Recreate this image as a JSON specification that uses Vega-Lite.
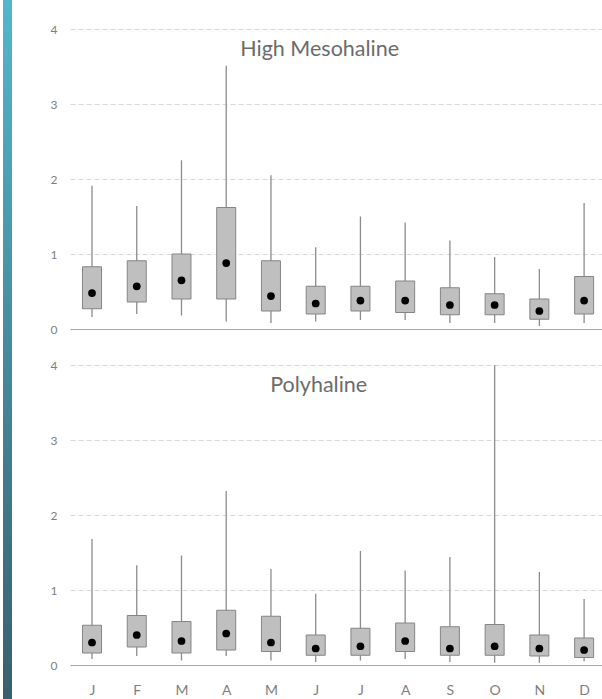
{
  "$schema": "https://vega.github.io/schema/vega-lite/v6.json",
  "padding": {"left": 3, "top": 0, "right": 0, "bottom": 0},
  "background": "white",
  "config": {
    "view": {"stroke": null},
    "font": "Lato",
    "axis": {"labelFont": "Lato", "labelColor": "#7f7f7f", "title": null}
  },
  "datasets": {
    "hm": [
      {"m": 1, "low": 0.16, "q1": 0.27, "mid": 0.48, "q3": 0.83, "high": 1.91},
      {"m": 2, "low": 0.20, "q1": 0.36, "mid": 0.57, "q3": 0.91, "high": 1.64},
      {"m": 3, "low": 0.18, "q1": 0.40, "mid": 0.65, "q3": 1.00, "high": 2.25},
      {"m": 4, "low": 0.10, "q1": 0.40, "mid": 0.88, "q3": 1.62, "high": 3.51},
      {"m": 5, "low": 0.08, "q1": 0.24, "mid": 0.44, "q3": 0.91, "high": 2.05},
      {"m": 6, "low": 0.10, "q1": 0.20, "mid": 0.34, "q3": 0.57, "high": 1.09},
      {"m": 7, "low": 0.12, "q1": 0.24, "mid": 0.38, "q3": 0.57, "high": 1.50},
      {"m": 8, "low": 0.12, "q1": 0.22, "mid": 0.38, "q3": 0.64, "high": 1.42},
      {"m": 9, "low": 0.08, "q1": 0.19, "mid": 0.32, "q3": 0.55, "high": 1.18},
      {"m": 10, "low": 0.08, "q1": 0.19, "mid": 0.32, "q3": 0.47, "high": 0.96},
      {"m": 11, "low": 0.04, "q1": 0.13, "mid": 0.24, "q3": 0.40, "high": 0.80},
      {"m": 12, "low": 0.08, "q1": 0.20, "mid": 0.38, "q3": 0.70, "high": 1.68}
    ],
    "ph": [
      {"m": 1, "low": 0.08, "q1": 0.16, "mid": 0.30, "q3": 0.53, "high": 1.68},
      {"m": 2, "low": 0.12, "q1": 0.24, "mid": 0.40, "q3": 0.66, "high": 1.33},
      {"m": 3, "low": 0.06, "q1": 0.16, "mid": 0.32, "q3": 0.58, "high": 1.46},
      {"m": 4, "low": 0.12, "q1": 0.20, "mid": 0.42, "q3": 0.73, "high": 2.32},
      {"m": 5, "low": 0.06, "q1": 0.18, "mid": 0.30, "q3": 0.65, "high": 1.28},
      {"m": 6, "low": 0.04, "q1": 0.13, "mid": 0.22, "q3": 0.40, "high": 0.95},
      {"m": 7, "low": 0.06, "q1": 0.13, "mid": 0.25, "q3": 0.49, "high": 1.52},
      {"m": 8, "low": 0.08, "q1": 0.18, "mid": 0.32, "q3": 0.56, "high": 1.26},
      {"m": 9, "low": 0.04, "q1": 0.13, "mid": 0.22, "q3": 0.51, "high": 1.44},
      {"m": 10, "low": 0.03, "q1": 0.13, "mid": 0.25, "q3": 0.54, "high": 4.0},
      {"m": 11, "low": 0.03, "q1": 0.12, "mid": 0.22, "q3": 0.40, "high": 1.24},
      {"m": 12, "low": 0.05, "q1": 0.10, "mid": 0.20, "q3": 0.36, "high": 0.88}
    ]
  },
  "spacing": 38,
  "hconcat": [
    {
      "width": 9,
      "height": 699,
      "view": {
        "stroke": null,
        "fill": {
          "gradient": "linear", "x1": 0, "y1": 0, "x2": 0, "y2": 1,
          "stops": [
            {"offset": 0, "color": "#52b6cc"},
            {"offset": 1, "color": "#39606e"}
          ]
        }
      },
      "data": {"values": [{}]},
      "mark": {"type": "text", "text": ""},
      "encoding": {}
    },
    {
      "spacing": 24,
      "vconcat": [
        {
          "width": 532,
          "height": 329,
          "data": {"name": "hm"},
          "encoding": {
            "x": {"field": "m", "type": "quantitative", "scale": {"domain": [0.508, 12.4], "nice": false, "zero": false, "padding": 0},
                  "axis": {"labels": false, "ticks": false, "grid": false, "domainColor": "#a6a6a6", "domainWidth": 1.2, "values": [1,2,3,4,5,6,7,8,9,10,11,12]}}
          },
          "layer": [
            {
              "mark": {"type": "rule", "color": "#8c8c8c", "strokeWidth": 1.3},
              "encoding": {
                "y": {"field": "low", "type": "quantitative", "scale": {"domain": [0, 4.387], "nice": false, "padding": 0},
                      "axis": {"values": [0,1,2,3,4], "format": "d", "grid": true, "gridDash": [5, 3], "gridColor": "#d9d9d9", "domain": false, "ticks": false, "labelPadding": 13, "labelFontSize": 12}},
                "y2": {"field": "high"}
              }
            },
            {
              "mark": {"type": "bar", "size": 19, "fill": "#bfbfbf", "stroke": "#858585", "strokeWidth": 1},
              "encoding": {"y": {"field": "q1", "type": "quantitative"}, "y2": {"field": "q3"}}
            },
            {
              "mark": {"type": "point", "filled": true, "color": "black", "opacity": 1, "size": 60},
              "encoding": {"y": {"field": "mid", "type": "quantitative"}}
            },
            {
              "transform": [{"filter": "datum.m == 6"}],
              "mark": {"type": "text", "text": "High Mesohaline", "dx": 4, "fontSize": 21.5, "font": "Lato", "fill": "#6b6b6b", "align": "center", "baseline": "alphabetic"},
              "encoding": {"y": {"datum": 3.64, "type": "quantitative"}}
            }
          ]
        },
        {
          "width": 532,
          "height": 300,
          "data": {"name": "ph"},
          "encoding": {
            "x": {"field": "m", "type": "quantitative", "scale": {"domain": [0.508, 12.4], "nice": false, "zero": false, "padding": 0},
                  "axis": {"ticks": false, "grid": false, "domainColor": "#a6a6a6", "domainWidth": 1.2, "values": [1,2,3,4,5,6,7,8,9,10,11,12],
                           "labelExpr": "['J','F','M','A','M','J','J','A','S','O','N','D'][datum.value - 1]", "labelFontSize": 14, "labelPadding": 18, "labelFlush": false}}
          },
          "layer": [
            {
              "mark": {"type": "rule", "color": "#8c8c8c", "strokeWidth": 1.3},
              "encoding": {
                "y": {"field": "low", "type": "quantitative", "scale": {"domain": [0, 4], "nice": false, "padding": 0},
                      "axis": {"values": [0,1,2,3,4], "format": "d", "grid": true, "gridDash": [5, 3], "gridColor": "#d9d9d9", "domain": false, "ticks": false, "labelPadding": 13, "labelFontSize": 12}},
                "y2": {"field": "high"}
              }
            },
            {
              "mark": {"type": "bar", "size": 19, "fill": "#bfbfbf", "stroke": "#858585", "strokeWidth": 1},
              "encoding": {"y": {"field": "q1", "type": "quantitative"}, "y2": {"field": "q3"}}
            },
            {
              "mark": {"type": "point", "filled": true, "color": "black", "opacity": 1, "size": 60},
              "encoding": {"y": {"field": "mid", "type": "quantitative"}}
            },
            {
              "transform": [{"filter": "datum.m == 6"}],
              "mark": {"type": "text", "text": "Polyhaline", "dx": 3, "fontSize": 21.5, "font": "Lato", "fill": "#6b6b6b", "align": "center", "baseline": "alphabetic"},
              "encoding": {"y": {"datum": 3.635, "type": "quantitative"}}
            }
          ]
        }
      ]
    }
  ]
}
